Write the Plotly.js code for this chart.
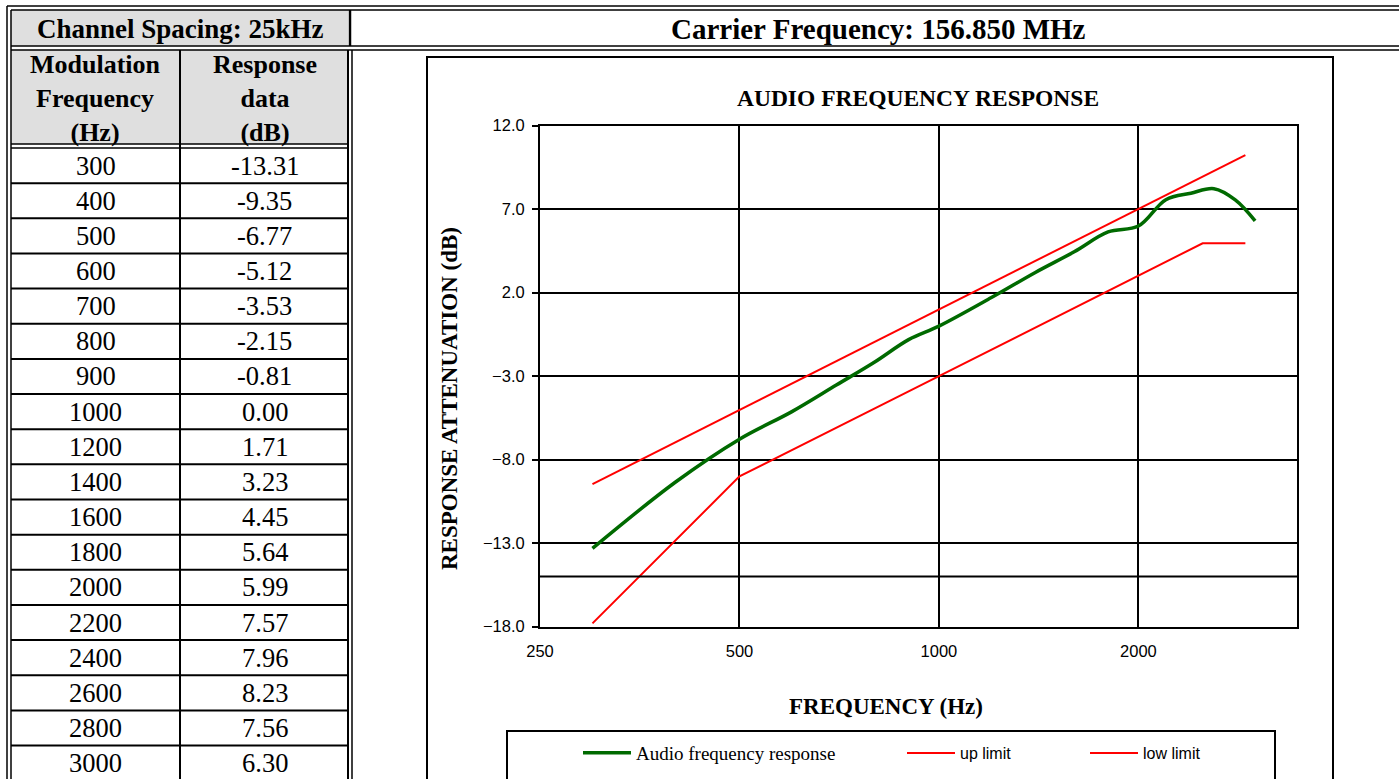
<!DOCTYPE html>
<html>
<head>
<meta charset="utf-8">
<script src="https://cdn.plot.ly/plotly-3.0.1.min.js"></script>
<style>
html,body{margin:0;padding:0;background:#fff;overflow:hidden;}
#chart{width:1399px;height:779px;}
</style>
</head>
<body>
<div id="chart"></div>
<script>
// ---------------- data ----------------
const channelSpacingLabel = "Channel Spacing: 25kHz";
const carrierLabel = "Carrier Frequency: 156.850 MHz";
const colHeaders = ["Modulation<br>Frequency<br>(Hz)", "Response<br>data<br>(dB)"];
const freqHz = [300, 400, 500, 600, 700, 800, 900, 1000, 1200, 1400, 1600, 1800, 2000, 2200, 2400, 2600, 2800, 3000];
const responseDb = [-13.31, -9.35, -6.77, -5.12, -3.53, -2.15, -0.81, 0.00, 1.71, 3.23, 4.45, 5.64, 5.99, 7.57, 7.96, 8.23, 7.56, 6.30];
const upLimitHz = [300, 1000, 2000, 2900];
const upLimitDb = [-9.46, 1.0, 7.0, 10.24];
const lowLimitHz = [300, 500, 1000, 2000, 2500, 2900];
const lowLimitDb = [-17.8, -9.0, -3.0, 3.0, 4.96, 4.96];
const xTickVals = [250, 500, 1000, 2000];
const xTickText = ["250", "500", "1000", "2000"];
const refLineDb = -15;
const chartTitle = "AUDIO FREQUENCY RESPONSE";
const xTitle = "FREQUENCY (Hz)";
const yTitle = "RESPONSE ATTENUATION (dB)";
const seriesNames = ["Audio frequency response", "up limit", "low limit"];

// ---------------- helpers (pixel -> paper) ----------------
const W = 1399, H = 779;
const px = x => x / W;
const py = y => 1 - y / H;

const SERIF = "Liberation Serif, Times New Roman, serif";
const SANS = "Liberation Sans, Arial, sans-serif";

const shapes = [];
const annotations = [];
function hline(x0, x1, y, w) {
  shapes.push({type: "line", xref: "paper", yref: "paper", x0: px(x0), x1: px(x1), y0: py(y), y1: py(y), line: {color: "#000", width: w}, layer: "above"});
}
function vline(x, y0, y1, w) {
  shapes.push({type: "line", xref: "paper", yref: "paper", x0: px(x), x1: px(x), y0: py(y0), y1: py(y1), line: {color: "#000", width: w}, layer: "above"});
}
function rect(x0, y0, x1, y1, fill, lw) {
  shapes.push({type: "rect", xref: "paper", yref: "paper", x0: px(x0), x1: px(x1), y0: py(y0), y1: py(y1),
    fillcolor: fill || "rgba(0,0,0,0)", line: {color: "#000", width: lw || 0}, layer: fill ? "below" : "above"});
}
function text(x, y, t, size, bold, font) {
  annotations.push({xref: "paper", yref: "paper", x: px(x), y: py(y), xanchor: "center", yanchor: "middle",
    text: bold ? "<b>" + t + "</b>" : t, showarrow: false, font: {family: font || SERIF, size: size, color: "#000"}});
}

// ---------------- table ----------------
const grey = "#dfdfdf";
rect(11, 10, 348, 46, grey);
rect(11, 50, 348, 144, grey);

// outer double borders
hline(7, W + 5, 6, 1.5);
hline(11, W + 5, 10, 1.5);
vline(7, 6, H + 5, 1.5);
vline(11, 10, H + 5, 1.5);
// under first header row
hline(11, W + 5, 46, 1.5);
hline(11, W + 5, 50, 1.5);
// table / chart separator
vline(350, 10, 46, 2.5);
vline(348, 50, H + 5, 2);
vline(352, 50, H + 5, 1.5);
// column header bottom double
hline(11, 348, 144, 1.5);
hline(11, 348, 148, 1.5);
// column separator
vline(180, 50, H + 5, 2);

const rowTop = 148, rowH = 35.15;
for (let k = 1; k < freqHz.length; k++) hline(11, 348, rowTop + rowH * k, 2);

text(180, 29, channelSpacingLabel, 27, true);
text(878, 29, carrierLabel, 29, true);
text(95.5, 99, colHeaders[0], 26, true);
text(264.5, 99, colHeaders[1], 26, true);
freqHz.forEach((f, i) => {
  const yc = rowTop + rowH * (i + 0.5);
  text(95.5, yc, String(f), 26.5, false);
  text(264.5, yc, responseDb[i].toFixed(2), 26.5, false);
});

// ---------------- chart frame ----------------
rect(427, 57, 1333, H + 20, null, 2);
rect(507, 731, 1275, H + 20, null, 2);
shapes.push({type: "line", xref: "x domain", yref: "y", x0: 0, x1: 1, y0: refLineDb, y1: refLineDb, line: {color: "#000", width: 2}, layer: "above"});

text(886, 706, xTitle, 23, true);
annotations.push({xref: "paper", yref: "paper", x: px(449), y: py(399), xanchor: "center", yanchor: "middle",
  text: "<b>" + yTitle + "</b>", textangle: -90, showarrow: false, font: {family: SERIF, size: 23, color: "#000"}});

// ---------------- traces ----------------
const traces = [
  {x: freqHz, y: responseDb, type: "scatter", mode: "lines", name: seriesNames[0],
   line: {color: "#006a00", width: 3.5, shape: "spline", smoothing: 1}, legend: "legend"},
  {x: upLimitHz, y: upLimitDb, type: "scatter", mode: "lines", name: seriesNames[1],
   line: {color: "#ff0000", width: 2}, legend: "legend2"},
  {x: lowLimitHz, y: lowLimitDb, type: "scatter", mode: "lines", name: seriesNames[2],
   line: {color: "#ff0000", width: 2}, legend: "legend3"}
];

const legendBase = {orientation: "h", xanchor: "left", yanchor: "middle", bgcolor: "rgba(0,0,0,0)", borderwidth: 0, itemwidth: 48, itemclick: false, itemdoubleclick: false};

const layout = {
  width: W, height: H,
  margin: {l: 0, r: 0, t: 0, b: 0},
  paper_bgcolor: "#fff", plot_bgcolor: "#fff",
  title: {text: "<b>" + chartTitle + "</b>", x: px(918), xanchor: "center", xref: "paper", y: py(98), yanchor: "middle", yref: "container",
          font: {family: SERIF, size: 23.5, color: "#000"}},
  xaxis: {type: "log", domain: [px(540), px(1297)], range: [Math.log10(250), Math.log10(3470)],
          tickmode: "array", tickvals: xTickVals, ticktext: xTickText, ticks: "", ticklabelstandoff: 8,
          showgrid: true, gridcolor: "#000", gridwidth: 2, showline: true, linecolor: "#000", linewidth: 2, mirror: true,
          zeroline: false, tickfont: {family: SANS, size: 16.5, color: "#000"}, fixedrange: true},
  yaxis: {domain: [py(626.7), py(125.7)], range: [-18, 12], tick0: -18, dtick: 5, tickformat: ".1f",
          ticks: "outside", ticklen: 6, tickwidth: 2, tickcolor: "#000", ticklabelstandoff: 4,
          showgrid: true, gridcolor: "#000", gridwidth: 2, showline: true, linecolor: "#000", linewidth: 2, mirror: true,
          zeroline: false, tickfont: {family: SANS, size: 16.5, color: "#000"}, fixedrange: true},
  showlegend: true,
  legend: Object.assign({}, legendBase, {x: px(578), y: py(753), font: {family: SERIF, size: 19, color: "#000"}}),
  legend2: Object.assign({}, legendBase, {x: px(902), y: py(753), font: {family: SANS, size: 16, color: "#000"}}),
  legend3: Object.assign({}, legendBase, {x: px(1085), y: py(753), font: {family: SANS, size: 16, color: "#000"}}),
  shapes: shapes,
  annotations: annotations
};

Plotly.newPlot("chart", traces, layout, {staticPlot: true, displayModeBar: false});
</script>
</body>
</html>
